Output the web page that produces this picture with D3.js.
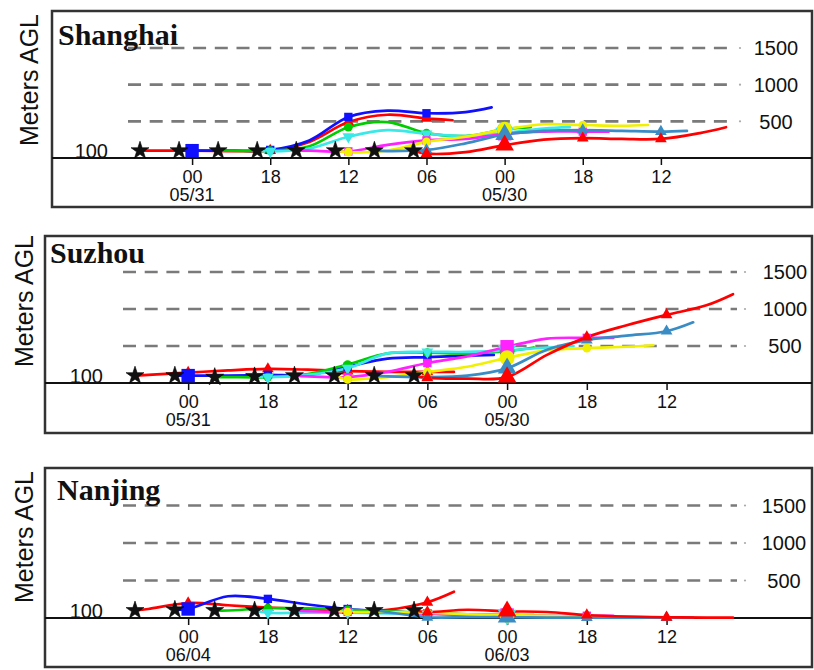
<!DOCTYPE html>
<html><head><meta charset="utf-8">
<script src="https://cdn.jsdelivr.net/npm/d3@7"></script>
<style>body{margin:0;background:#fff} svg{display:block}</style>
</head><body><svg id="c" width="814" height="670"></svg>
<script>
// ---------- data ----------
const stations = ["Shanghai", "Suzhou", "Nanjing"];
// start hour (backward, relative to first 00 UTC tick) of each of the 8 trajectories
const trajStart = [-4, -1, 2, 5, 8, 11, 14, 17];
// hours after start at which heights are read
const stepOffsets = [0, 1, 4, 7, 10, 13, 16, 19, 22, 24];
const trajColors = ["#ff0000", "#1010ff", "#00cc00", "#3ae8e8", "#ff22ff", "#f0f000", "#3a8cc4", "#ff0000"];
const trajSymbols = ["triangle", "square", "circle", "triangleDown", "square", "circle", "triangle", "triangle"];
const tickHours = [0, 6, 12, 18, 24, 30, 36];
const tickHourLabels = ["00", "18", "12", "06", "00", "18", "12"];
const dateLabels = [["05/31", "05/30"], ["05/31", "05/30"], ["06/04", "06/03"]];
const heightTicks = [500, 1000, 1500];

// heights (m AGL) of each trajectory at trajStart + stepOffsets
const shanghaiHeights = [
  [100, 100, 100, 95, 100, 220, 490, 590, 540, 515],
  [100, 100, 100, 110, 240, 560, 645, 610, 625, 690],
  [100, 100, 100, 160, 420, 490, 340, 300, 390, 420],
  [100, 90, 130, 290, 380, 330, 300, 340, 400, 420],
  [100, 100, 90, 180, 240, 260, 330, 360, 360, 360],
  [100, 80, 100, 220, 290, 390, 460, 450, 440, 450],
  [100, 95, 110, 200, 320, 370, 380, 370, 360, 370],
  [100, 60, 80, 175, 250, 270, 260, 260, 340, 420]
];
const suzhouHeights = [
  [100, 110, 140, 170, 190, 180, 160, 150, 150, 150],
  [100, 100, 100, 110, 110, 220, 330, 350, 370, 380],
  [80, 80, 80, 120, 250, 400, 410, 400, 430, 480],
  [90, 80, 110, 200, 400, 420, 420, 440, 480, 500],
  [100, 90, 80, 150, 270, 360, 490, 600, 610, 610],
  [100, 50, 80, 150, 220, 340, 440, 470, 490, 510],
  [100, 90, 80, 100, 200, 450, 580, 640, 700, 820],
  [100, 70, 60, 80, 380, 620, 780, 920, 1050, 1200]
];
const nanjingHeights = [
  [100, 120, 200, 170, 140, 120, 100, 110, 210, 350],
  [110, 120, 290, 255, 180, 120, 90, 60, 40, 30],
  [100, 100, 130, 130, 110, 90, 70, 50, 40, 40],
  [100, 70, 70, 70, 60, 50, 50, 40, 30, 30],
  [100, 90, 80, 70, 60, 50, 40, 30, 30, 30],
  [100, 80, 80, 70, 50, 40, 30, 20, 20, 10],
  [100, 80, 10, 10, 10, 5, 5, 5, 5, 5],
  [100, 80, 110, 90, 80, 40, 20, 10, 5, 5]
];
const stationHeights = [shanghaiHeights, suzhouHeights, nanjingHeights];

// ---------- layout ----------
const panels = [
  {left: 52, top: 11, base: 158, bottom: 207, x0: 140, x1: 726, y1500: 48, dash: [128, 740], labX: 776, nameX: 58, nameY: 45, ylabX: 38, ylabY: 80, l100: 108},
  {left: 45, top: 236, base: 383, bottom: 433, x0: 135, x1: 733, y1500: 272, dash: [123, 745], labX: 785, nameX: 50, nameY: 263, ylabX: 33, ylabY: 301, l100: 103},
  {left: 45, top: 468, base: 618, bottom: 667, x0: 135, x1: 733, y1500: 505.5, dash: [123, 745], labX: 784, nameX: 57, nameY: 500, ylabX: 33, ylabY: 537, l100: 103}
];
const RIGHT = 812;
const svg = d3.select("#c");

function symPath(type, big) {
  const map = {triangle: d3.symbolTriangle, triangleDown: d3.symbolTriangle, square: d3.symbolSquare, circle: d3.symbolCircle};
  const sizes = {triangle: big ? 150 : 60, triangleDown: big ? 150 : 60, square: big ? 180 : 70, circle: big ? 180 : 60};
  return d3.symbol(map[type], sizes[type])();
}

panels.forEach((p, pi) => {
  const g = svg.append("g");
  const x = d3.scaleLinear().domain([-4, 41]).range([p.x0, p.x1]);
  const y = d3.scaleLinear().domain([0, 1500]).range([p.base, p.y1500]);

  // frame
  g.append("rect").attr("x", p.left).attr("y", p.top).attr("width", RIGHT - p.left).attr("height", p.bottom - p.top)
    .attr("fill", "none").attr("stroke", "#333").attr("stroke-width", 2.5);
  // baseline
  g.append("line").attr("x1", p.left).attr("x2", RIGHT).attr("y1", p.base).attr("y2", p.base)
    .attr("stroke", "#111").attr("stroke-width", 2.2);

  // dashed height lines
  heightTicks.forEach(v => {
    g.append("line").attr("x1", p.dash[0]).attr("x2", p.dash[1] - 8).attr("y1", y(v)).attr("y2", y(v))
      .attr("stroke", "#7a7a7a").attr("stroke-width", 2.6).attr("stroke-dasharray", "13,8.7");
    g.append("circle").attr("cx", p.dash[1]).attr("cy", y(v)).attr("r", 1.1).attr("fill", "#aaa");
    g.append("text").attr("x", p.labX).attr("y", y(v)).attr("dy", "0.36em").attr("text-anchor", "middle")
      .attr("font-family", "Liberation Sans, Arial, sans-serif").attr("font-size", 20).attr("fill", "#111").text(v);
  });

  // x axis ticks and labels
  const xa = d3.axisBottom(x).tickValues(tickHours).tickSize(7).tickFormat((d, i) => tickHourLabels[i]);
  const ax = g.append("g").attr("transform", `translate(0,${p.base})`).call(xa);
  ax.select(".domain").remove();
  ax.selectAll(".tick line").attr("stroke", "#111").attr("stroke-width", 1.5);
  ax.selectAll(".tick text").attr("y", 12).attr("dy", "0.71em").attr("font-family", "Liberation Sans, Arial, sans-serif")
    .attr("font-size", 18).attr("fill", "#111");
  [0, 24].forEach((h, k) => {
    g.append("text").attr("x", x(h)).attr("y", p.base + 37).attr("dy", "0.36em").attr("text-anchor", "middle")
      .attr("font-family", "Liberation Sans, Arial, sans-serif").attr("font-size", 18).attr("fill", "#111")
      .text(dateLabels[pi][k]);
  });

  // 100 label
  g.append("text").attr("x", p.l100).attr("y", p.base).attr("text-anchor", "end")
    .attr("font-family", "Liberation Sans, Arial, sans-serif").attr("font-size", 20).attr("fill", "#111").text("100");

  // y axis title
  g.append("text").attr("transform", `translate(${p.ylabX},${p.ylabY}) rotate(-90)`).attr("text-anchor", "middle")
    .attr("font-family", "Liberation Sans, Arial, sans-serif").attr("font-size", 25).attr("fill", "#111").text("Meters AGL");

  // station name
  g.append("text").attr("x", p.nameX).attr("y", p.nameY).attr("font-family", "Liberation Serif, 'Times New Roman', serif")
    .attr("font-weight", "bold").attr("font-size", 30).attr("fill", "#111").text(stations[pi]);

  // trajectories
  const data = stationHeights[pi];
  const series = data.map((vals, k) => vals.map((v, j) => ({h: trajStart[k] + stepOffsets[j], z: v})));
  const line = d3.line().x(d => x(d.h)).y(d => y(d.z)).curve(d3.curveCatmullRom.alpha(0.5));
  series.forEach((s, k) => {
    g.append("path").attr("d", line(s)).attr("fill", "none").attr("stroke", trajColors[k])
      .attr("stroke-width", 2.7).attr("stroke-linejoin", "round").attr("stroke-linecap", "round");
  });
  series.forEach((s, k) => {
    s.filter(d => d.h % 6 === 0 && d.h !== trajStart[k]).forEach(d => {
      const big = d.h % 24 === 0 && d.h - trajStart[k] < 4 || d.h === 24;
      const rot = trajSymbols[k] === "triangleDown" ? " rotate(180)" : "";
      g.append("path").attr("d", symPath(trajSymbols[k], big))
        .attr("transform", `translate(${x(d.h)},${y(d.z)})${rot}`).attr("fill", trajColors[k]);
    });
  });
  // start stars
  series.forEach(s => {
    g.append("path").attr("d", d3.symbol(d3.symbolStar, 100)())
      .attr("transform", `translate(${x(s[0].h)},${y(s[0].z)})`)
      .attr("fill", "#111").attr("stroke", "#000").attr("stroke-width", 0.6);
  });
});
</script>
</body></html>
